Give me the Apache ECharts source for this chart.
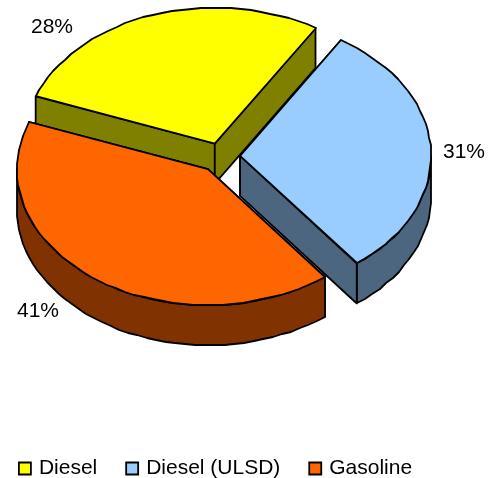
<!DOCTYPE html>
<html>

<head>
    <meta charset="utf-8">
    <script src="https://cdn.jsdelivr.net/npm/echarts@6/dist/echarts.min.js"></script>
    <style>
        html, body { margin: 0; padding: 0; background: #fff; }
    </style>
</head>

<body>
    <div id="main" style="width:493px;height:478px;"></div>
</body>
<script>
    var categories = ['Diesel', 'Diesel (ULSD)', 'Gasoline'];
    var shares = [28.2, 30.7, 41.1];
    var topColors = ['#FFFF00', '#99CCFF', '#FF6600'];
    var sideColors = ['#808000', '#4C6680', '#803300'];
    var explodes = [0.1, 0.1, 0.115];
    var labelSpots = [[52, 27], [464, 152], [38, 311]];

    // pie projection, angles run clockwise from 12 o'clock
    var cx = 221, cy = 156.5, rx = 191, ry = 136, depth = 40;
    var firstAngle = -69.7, arcStep = 3;
    var total = shares.reduce(function(a, b) { return a + b; }, 0);

    function rad(deg) { return deg * Math.PI / 180; }

    function sliceStart(i) {
        var sum = 0;
        for (var k = 0; k < i; k++) sum += shares[k];
        return firstAngle + sum / total * 360;
    }

    function arcPoints(apex, from, to, dy) {
        var pts = [];
        var n = Math.max(1, Math.round((to - from) / arcStep));
        for (var k = 0; k <= n; k++) {
            var a = rad(from + (to - from) * k / n);
            pts.push([Math.round(apex[0] + rx * Math.sin(a)), Math.round(apex[1] - ry * Math.cos(a) + dy)]);
        }
        return pts;
    }

    function poly(points, fill) {
        return {
            type: 'polygon',
            shape: { points: points },
            style: { fill: fill, stroke: '#000', lineWidth: 1.8, lineJoin: 'round' }
        };
    }

    function radialWall(apex, angle, fill) {
        var a = rad(angle);
        var x = apex[0] + rx * Math.sin(a), y = apex[1] - ry * Math.cos(a);
        return poly([[apex[0], apex[1]], [x, y], [x, y + depth], [apex[0], apex[1] + depth]], fill);
    }

    function renderSlice(i) {
        return function(params, api) {
            var start = sliceStart(i);
            var end = start + api.value(0) / total * 360;
            var mid = rad((start + end) / 2);
            var apex = [cx + explodes[i] * rx * Math.sin(mid), cy - explodes[i] * ry * Math.cos(mid)];
            var children = [radialWall(apex, start, sideColors[i]), radialWall(apex, end, sideColors[i])];

            // only the part of the rim facing the viewer gets a wall
            var a0 = Math.max(start, 90), a1 = Math.min(end, 270);
            if (a1 > a0) {
                var rim = arcPoints(apex, a0, a1, 0).concat(arcPoints(apex, a0, a1, depth).reverse());
                children.push(poly(rim, sideColors[i]));
            }
            children.push(poly([apex].concat(arcPoints(apex, start, end, 0)), topColors[i]));
            children.push({
                type: 'text',
                style: {
                    x: labelSpots[i][0], y: labelSpots[i][1],
                    text: Math.round(api.value(0)) + '%',
                    fill: '#000',
                    font: '21px "Liberation Sans"',
                    align: 'center', verticalAlign: 'middle'
                }
            });
            return { type: 'group', children: children };
        };
    }

    var myChart = echarts.init(document.getElementById('main'));
    myChart.setOption({
        animation: false,
        legend: {
            left: 18,
            top: 458,
            padding: 0,
            itemWidth: 12,
            itemHeight: 12,
            itemGap: 28,
            icon: 'rect',
            itemStyle: { borderColor: '#000', borderWidth: 1.8 },
            textStyle: { color: '#000', fontFamily: 'Liberation Sans', fontSize: 21, padding: [0, 0, 0, 3] }
        },
        series: categories.map(function(name, i) {
            return {
                type: 'custom',
                name: name,
                coordinateSystem: 'none',
                itemStyle: { color: topColors[i] },
                renderItem: renderSlice(i),
                data: [shares[i]]
            };
        })
    });
</script>

</html>
